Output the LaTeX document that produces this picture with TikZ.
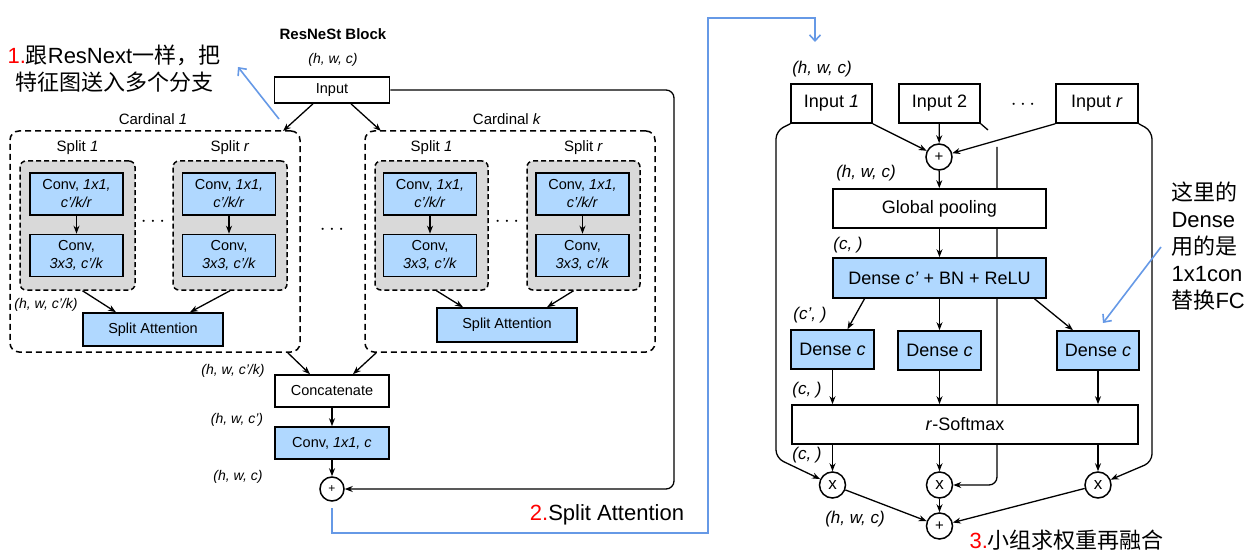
\documentclass[tikz,border=0pt]{standalone}
\usepackage{fontspec}
\setmainfont{Liberation Sans}
\newfontfamily\cjk{Noto Sans CJK SC}
\usetikzlibrary{arrows.meta,backgrounds}
\definecolor{boxblue}{RGB}{176,216,255}
\definecolor{splitgray}{RGB}{217,217,217}
\definecolor{noteblue}{RGB}{102,153,230}

\begin{document}
\begin{tikzpicture}[
    x=1pt, y=-1pt,
    box/.style={rectangle, draw, line width=1.6pt, fill=white, inner sep=0pt, align=center, font=\fontsize{14.5}{18}\selectfont},
    bluebox/.style={box, fill=boxblue},
    bigbox/.style={box, font=\fontsize{18}{21}\selectfont},
    bigblue/.style={bigbox, fill=boxblue},
    splitbox/.style={rectangle, draw, rounded corners=6pt, fill=splitgray, line width=1.5pt, dash pattern=on 5pt off 3pt},
    cardinal/.style={rectangle, draw, rounded corners=9pt, line width=1.5pt, dash pattern=on 6pt off 4pt},
    op/.style={circle, draw, line width=1.5pt, fill=white, minimum size=25pt, inner sep=0pt, font=\fontsize{15}{15}\selectfont},
    dim/.style={font=\fontsize{14}{16}\selectfont\itshape},
    bigdim/.style={font=\fontsize{17}{19}\selectfont\itshape},
    label/.style={font=\fontsize{15}{18}\selectfont},
    arrow/.style={-{Stealth[length=8pt,width=6pt]}, line width=1.3pt},
    note/.style={-{Straight Barb[length=6pt,width=11pt]}, noteblue, line width=1.6pt},
    notetext/.style={font=\fontsize{22}{27}\selectfont, align=left}
]
\useasboundingbox (0,0) rectangle (1248,556);

% Left: ResNeSt block
\node[font=\fontsize{15}{18}\selectfont\bfseries] (title) at (333,34) {ResNeSt Block};
\node[dim] (dimin) at (333,60) {(h, w, c)};
\node[box, minimum width=115pt, minimum height=26pt] (input) at (332,90) {Input};

% Cardinal groups
\node[cardinal, minimum width=290pt, minimum height=221pt] (card1) at (155,241.5) {};
\node[cardinal, minimum width=290pt, minimum height=221pt] (cardk) at (510,241.5) {};
\node[label] (card1lbl) at (153,119) {Cardinal \textit{1}};
\node[label] (cardklbl) at (507,119) {Cardinal \textit{k}};

% Splits
\node[splitbox, minimum width=115pt, minimum height=129pt] (s11) at (77.5,225.5) {};
\node[splitbox, minimum width=114pt, minimum height=129pt] (s1r) at (230,225.5) {};
\node[splitbox, minimum width=113pt, minimum height=129pt] (sk1) at (431.5,225.5) {};
\node[splitbox, minimum width=113pt, minimum height=129pt] (skr) at (583.5,225.5) {};
\node[label] at (77.5,148) {Split \textit{1}};
\node[label] at (230,148) {Split \textit{r}};
\node[label] at (431.5,148) {Split \textit{1}};
\node[label] at (583.5,148) {Split \textit{r}};

\node[bluebox, minimum width=93pt, minimum height=42pt] (c11a) at (76.5,194) {Conv, \textit{1x1,}\\\textit{c'/k/r}};
\node[bluebox, minimum width=93pt, minimum height=42pt] (c11b) at (76.5,255.5) {Conv,\\\textit{3x3, c'/k}};
\node[bluebox, minimum width=93pt, minimum height=42pt] (c1ra) at (229,194) {Conv, \textit{1x1,}\\\textit{c'/k/r}};
\node[bluebox, minimum width=93pt, minimum height=42pt] (c1rb) at (229,255.5) {Conv,\\\textit{3x3, c'/k}};
\node[bluebox, minimum width=93pt, minimum height=42pt] (ck1a) at (430,194) {Conv, \textit{1x1,}\\\textit{c'/k/r}};
\node[bluebox, minimum width=93pt, minimum height=42pt] (ck1b) at (430,255.5) {Conv,\\\textit{3x3, c'/k}};
\node[bluebox, minimum width=93pt, minimum height=42pt] (ckra) at (582.5,194) {Conv, \textit{1x1,}\\\textit{c'/k/r}};
\node[bluebox, minimum width=93pt, minimum height=42pt] (ckrb) at (582.5,255.5) {Conv,\\\textit{3x3, c'/k}};

\node[font=\fontsize{20}{20}\selectfont] (dots1) at (153,222) {$\cdots$};
\node[font=\fontsize{20}{20}\selectfont] (dots2) at (332,230) {$\cdots$};
\node[font=\fontsize{20}{20}\selectfont] (dots3) at (507,222) {$\cdots$};

\node[bluebox, minimum width=140pt, minimum height=33pt] (sa1) at (153,329.5) {Split Attention};
\node[bluebox, minimum width=140pt, minimum height=34pt] (sak) at (507,325) {Split Attention};
\node[dim] (dimsplit) at (46,305) {(h, w, c'/k)};

% Merge
\node[box, minimum width=114pt, minimum height=32pt] (concat) at (332,391) {Concatenate};
\node[bluebox, minimum width=114pt, minimum height=32pt] (conv) at (332,443) {Conv, \textit{1x1, c}};
\node[op, minimum size=24pt, font=\fontsize{12}{12}\selectfont] (plus1) at (332,489) {+};
\node[dim] at (233,371) {(h, w, c'/k)};
\node[dim] at (237,420) {(h, w, c')};
\node[dim] at (238,477) {(h, w, c)};

% Left connections
\draw[arrow] ([xshift=-19pt]input.south) -- (283,131);
\draw[arrow] ([xshift=19pt]input.south) -- (381,131);
\draw[arrow] (c11a) -- (c11b);
\draw[arrow] (c1ra) -- (c1rb);
\draw[arrow] (ck1a) -- (ck1b);
\draw[arrow] (ckra) -- (ckrb);
\draw[arrow] ([xshift=5pt]s11.south) -- ([xshift=-37pt]sa1.north);
\draw[arrow] (s1r.south) -- ([xshift=37pt]sa1.north);
\draw[arrow] ([xshift=5pt]sk1.south) -- ([xshift=-44pt]sak.north);
\draw[arrow] ([xshift=-10pt]skr.south) -- ([xshift=40pt]sak.north);
\draw[arrow] ([xshift=-13pt]card1.south east) -- ([xshift=-22pt]concat.north);
\draw[arrow] ([xshift=12pt]cardk.south west) -- ([xshift=21pt]concat.north);
\draw[arrow] (concat) -- (conv);
\draw[arrow] (conv) -- (plus1);
\draw[arrow, rounded corners=8pt] (input.east) -- (674,90) |- (plus1.east);

% Right: split attention
\node[bigdim] (dimr) at (822,69) {(h, w, c)};
\node[bigbox, minimum width=81pt, minimum height=39pt] (in1) at (831.5,103.5) {Input \textit{1}};
\node[bigbox, minimum width=81pt, minimum height=39pt] (in2) at (939.5,103.5) {Input 2};
\node[bigbox, minimum width=82pt, minimum height=39pt] (inr) at (1097,103.5) {Input \textit{r}};
\node[font=\fontsize{20}{21}\selectfont] (dots4) at (1023,105) {$\cdots$};
\node[op, minimum size=26pt] (plus2) at (939,157) {+};
\node[bigbox, minimum width=213pt, minimum height=39pt] (gpool) at (939.5,208.5) {Global pooling};
\node[bigblue, minimum width=213pt, minimum height=40pt] (densebn) at (939.5,278) {Dense \textit{c'} + BN + ReLU};
\node[bigblue, minimum width=83pt, minimum height=39pt] (dense1) at (832.5,349.5) {Dense \textit{c}};
\node[bigblue, minimum width=83pt, minimum height=39pt] (dense2) at (939.5,350.5) {Dense \textit{c}};
\node[bigblue, minimum width=82pt, minimum height=39pt] (dense3) at (1098,350.5) {Dense \textit{c}};
\node[bigbox, minimum width=346pt, minimum height=39pt] (softmax) at (965,424.5) {\textit{r}-Softmax};
\node[op, minimum size=26pt, font=\fontsize{17}{17}\selectfont] (mul1) at (832.5,485) {x};
\node[op, minimum size=26pt, font=\fontsize{17}{17}\selectfont] (mul2) at (939.5,485) {x};
\node[op, minimum size=26pt, font=\fontsize{17}{17}\selectfont] (mul3) at (1098,485) {x};
\node[op, minimum size=26pt] (plus3) at (939.5,526) {+};

\node[bigdim] at (866,173) {(h, w, c)};
\node[bigdim] at (848,245) {(c, )};
\node[bigdim] at (810,315) {(c', )};
\node[bigdim] at (807,390) {(c, )};
\node[bigdim] at (807,455) {(c, )};
\node[bigdim] at (855,519) {(h, w, c)};

% Right connections
\draw[arrow] (in1.south east) -- (plus2);
\draw[arrow] (in2) -- (plus2);
\draw[arrow] (inr.south west) -- (plus2);
\draw[arrow] (plus2) -- (gpool);
\draw[arrow] (gpool) -- (densebn);
\draw[arrow] ([xshift=-75pt]densebn.south) -- ([xshift=15pt]dense1.north);
\draw[arrow] (densebn) -- (dense2);
\draw[arrow] ([xshift=95pt]densebn.south) -- ([xshift=-25pt]dense3.north);
\foreach \d in {dense1,dense2,dense3}
    \draw[arrow] (\d.south) -- (\d.south |- softmax.north);
\foreach \m in {mul1,mul2,mul3}
    \draw[arrow] (\m |- softmax.south) -- (\m);
\draw[arrow] (mul1) -- (plus3);
\draw[arrow] (mul2) -- (plus3);
\draw[arrow] (mul3) -- (plus3);

% Side paths behind the boxes
\begin{scope}[on background layer]
\draw[arrow, rounded corners=8pt] (in1.south west) -- (776,131) -- (776,458) -- (mul1);
\draw[arrow, rounded corners=8pt] (inr.south east) -- (1152,131) -- (1152,462) -- (mul3);
\draw[line width=1.3pt] (in2.south east) -- (988,130);
\draw[arrow, rounded corners=8pt] (997,147) |- (mul2.east);
\end{scope}

% Notes
\coordinate (n1s) at (279,119);
\coordinate (n1e) at (238,67);
\draw[note] (n1s) -- (n1e);
\node[notetext, anchor=west] (note1) at (4,68.5) {{\color{red}1.}{\cjk 跟}ResNext{\cjk 一样，把}\\\hspace{8pt}{\cjk 特征图送入多个分支}};

\coordinate (n2s) at (332,508);
\coordinate (n2e) at (815,42);
\draw[note] (n2s) |- (708,533) -- (708,18) -| (n2e);
\node[notetext] (note2) at (607,515) {{\color{red}2.}Split Attention};

\coordinate (n3s) at (1161,247);
\coordinate (n3e) at (1103,323);
\draw[note] (n3s) -- (n3e);
\node[notetext, anchor=west] (note3) at (1168,246.5) {{\cjk 这里的}\\Dense\\{\cjk 用的是}\\1x1con\\{\cjk 替换}FC};

\node[notetext, anchor=west] (note4) at (966,540) {{\color{red}3.}{\cjk 小组求权重再融合}};

\end{tikzpicture}
\end{document}
